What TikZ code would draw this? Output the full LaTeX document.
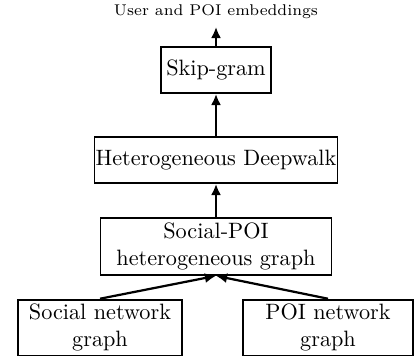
\documentclass[tikz,border=0pt]{standalone}
\usepackage{amsmath}
\usetikzlibrary{arrows.meta}
\begin{document}
\begin{tikzpicture}[x=0.45pt, y=-0.45pt, >={Latex[length=5pt,width=4.5pt]}]
  \tikzset{
    block/.style={draw, thick, align=center, inner sep=2pt, minimum height=20.7pt},
    flow/.style={->, line width=1pt}
  }
  \useasboundingbox (0,0) rectangle (414,358);

  % Stack of stages
  \node (out) at (216,12) {\scriptsize User and POI embeddings};
  \node[block, minimum width=49.5pt] (skip) at (216,70) {Skip-gram};
  \node[block, inner xsep=0.5pt] (walk) at (216,160) {Heterogeneous Deepwalk};
  \node[block, minimum width=104pt, minimum height=25.6pt] (hetero) at (216,246.5) {Social-POI\\heterogeneous graph};

  % Input graphs
  \node[block, minimum width=74pt, minimum height=24.8pt] (social) at (100,327.5) {Social network\\graph};
  \node[block, minimum width=76.5pt, minimum height=24.8pt] (poi) at (328,327.5) {POI network\\graph};

  % Arrows
  \draw[flow] (social.north) -- (hetero.south);
  \draw[flow] (poi.north) -- (hetero.south);
  \draw[flow] (hetero) -- (walk);
  \draw[flow] (walk) -- (skip);
  \draw[flow] (skip) -- (out);
\end{tikzpicture}
\end{document}
